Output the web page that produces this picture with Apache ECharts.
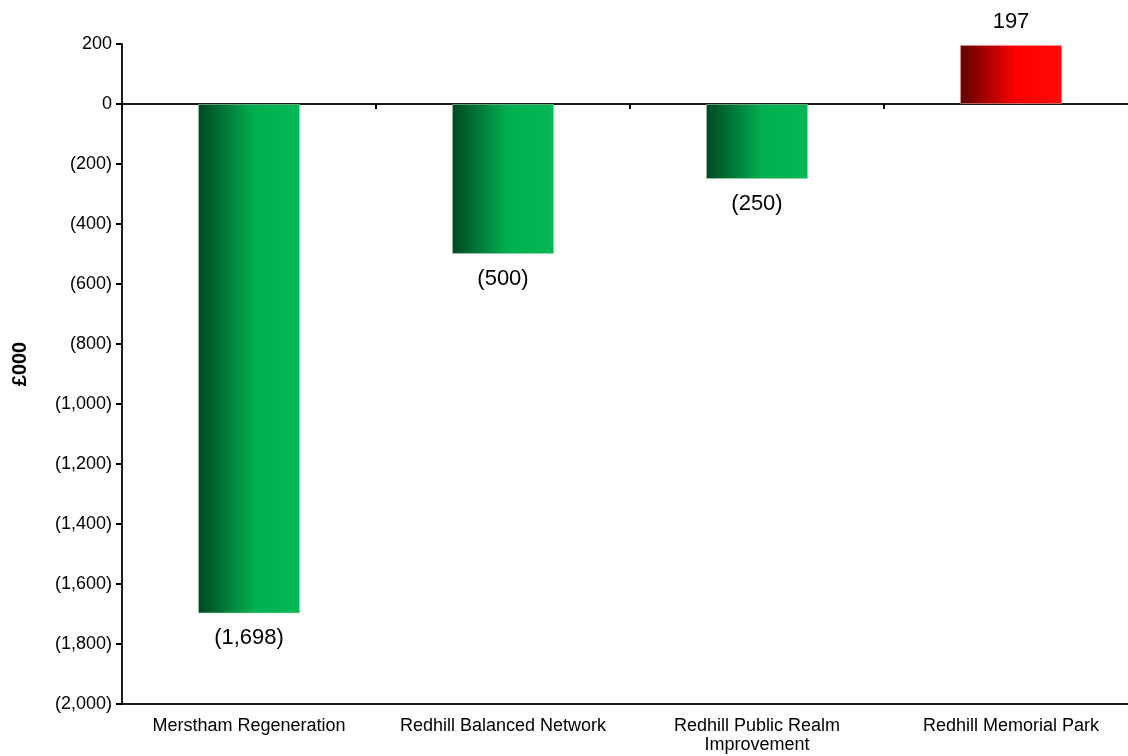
<!DOCTYPE html>
<html>
<head>
<meta charset="utf-8">
<title>Project variances (£000)</title>
<script src="https://cdn.jsdelivr.net/npm/echarts@6/dist/echarts.min.js"></script>
<style>
  html, body { margin: 0; padding: 0; background: #ffffff; }
  #chart { width: 1128px; height: 756px; }
</style>
</head>
<body>
<div id="chart"></div>
<script>
// Scheme names and their variance in £000 (negative = underspend)
const categories = [
  'Merstham Regeneration',
  'Redhill Balanced Network',
  'Redhill Public Realm\nImprovement',
  'Redhill Memorial Park'
];
const values = [-1698, -500, -250, 197];

// Value axis range and step
const axisMin = -2000;
const axisMax = 200;
const axisStep = 200;

const FONT = '"Liberation Sans", Arial, sans-serif';

// Accounting-style number: negatives in brackets, thousands separated
function fmt(v) {
  const s = Math.abs(v).toLocaleString('en-GB');
  return v < 0 ? '(' + s + ')' : s;
}

function shade(dark, mid, light) {
  return {
    type: 'linear', x: 0, y: 0, x2: 1, y2: 0,
    colorStops: [
      { offset: 0, color: dark },
      { offset: 0.55, color: mid },
      { offset: 1, color: light }
    ]
  };
}
const greenFill = shade('#004722', '#00b050', '#07b655');
const redFill = shade('#5e0000', '#ff0000', '#ff0a0a');

const chart = echarts.init(document.getElementById('chart'), null, { renderer: 'canvas' });

chart.setOption({
  animation: false,
  backgroundColor: '#ffffff',
  // plot area runs slightly past the right edge of the canvas
  grid: {
    left: 122, width: 1016, top: 44, height: 660,
    containLabel: false, outerBoundsMode: 'none'
  },
  xAxis: [
    {
      type: 'category',
      data: categories,
      position: 'bottom',
      axisLine: { onZero: false, lineStyle: { color: '#1a1a1a', width: 2 } },
      axisTick: { show: false },
      axisLabel: {
        color: '#000', fontFamily: FONT, fontSize: 18, margin: 13, lineHeight: 19,
        interval: 0
      },
      splitLine: { show: false }
    },
    {
      // zero baseline with category dividers
      type: 'category',
      data: categories,
      position: 'top',
      axisLine: { onZero: true, lineStyle: { color: '#1a1a1a', width: 2 } },
      axisTick: { show: true, inside: true, length: 5, lineStyle: { color: '#000', width: 2 } },
      axisLabel: { show: false },
      splitLine: { show: false }
    }
  ],
  yAxis: {
    type: 'value',
    min: axisMin,
    max: axisMax,
    interval: axisStep,
    name: '£000',
    nameLocation: 'middle',
    nameGap: 92,
    nameRotate: 90,
    nameTextStyle: { color: '#000', fontFamily: FONT, fontSize: 20, fontWeight: 'bold', padding: [0, 0, 0, 20] },
    axisLine: { show: true, onZero: false, lineStyle: { color: '#1a1a1a', width: 2 } },
    axisTick: { show: true, length: 6, lineStyle: { color: '#000', width: 2 } },
    axisLabel: {
      color: '#000', fontFamily: FONT, fontSize: 18, margin: 10,
      formatter: fmt
    },
    splitLine: { show: false }
  },
  series: [{
    type: 'bar',
    xAxisIndex: 0,
    barWidth: 102,
    data: values.map(v => ({
      value: v,
      itemStyle: {
        color: v < 0 ? greenFill : redFill,
        borderColor: v < 0 ? 'rgba(150,210,170,0.6)' : 'rgba(255,150,150,0.6)',
        borderWidth: 1
      },
      label: { position: v < 0 ? 'bottom' : 'top', distance: v < 0 ? 14 : 12 }
    })),
    label: {
      show: true,
      color: '#000',
      fontFamily: FONT,
      fontSize: 22,
      formatter: p => fmt(p.value)
    }
  }]
});
</script>
</body>
</html>
